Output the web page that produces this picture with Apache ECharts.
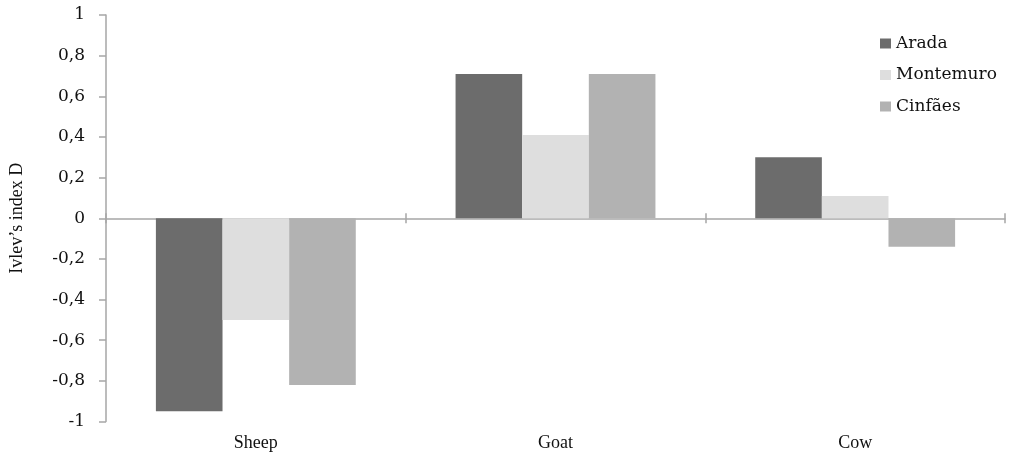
<!DOCTYPE html>
<html>
<head>
<meta charset="utf-8">
<script src="https://cdn.jsdelivr.net/npm/echarts@6/dist/echarts.min.js"></script>
<style>html,body{margin:0;padding:0;background:#fff;}#c{width:1014px;height:455px;}</style>
</head>
<body>
<div id="c"></div>
<script>
const categories = ['Sheep', 'Goat', 'Cow'];
const arada = [-0.95, 0.71, 0.30];
const montemuro = [-0.50, 0.41, 0.11];
const cinfaes = [-0.82, 0.71, -0.14];
const seriesNames = ['Arada', 'Montemuro', 'Cinfães'];
const yTicks = { min: -1, max: 1, interval: 0.2 };

const font = 'Liberation Serif';
const wideFont = 'DejaVu Serif';
const axisGray = '#a6a6a6';
const chart = echarts.init(document.getElementById('c'));
chart.setOption({
  animation: false,
  backgroundColor: '#fff',
  grid: { left: 105, right: 9, top: 15, bottom: 33.5 },
  legend: {
    orient: 'vertical', left: 875, top: 30, icon: 'rect',
    itemWidth: 11, itemHeight: 10, itemGap: 14.5,
    textStyle: { fontFamily: wideFont, fontSize: 17, color: '#111' },
    data: seriesNames
  },
  xAxis: [
    { type: 'category', data: categories, position: 'bottom',
      axisLine: { show: false, onZero: false }, axisTick: { show: false },
      axisLabel: { margin: 13, fontFamily: font, fontSize: 18, color: '#111' } },
    { type: 'category', data: categories, position: 'bottom',
      axisLine: { show: true, onZero: true, onZeroAxisIndex: 0, lineStyle: { color: axisGray, width: 1.5 } },
      axisTick: { show: true, length: 5, lineStyle: { color: axisGray, width: 1.5 } },
      axisLabel: { show: false } },
    { type: 'category', data: categories, position: 'bottom',
      axisLine: { show: false, onZero: true, onZeroAxisIndex: 1 },
      axisTick: { show: true, inside: true, length: 5, lineStyle: { color: axisGray, width: 1.5 } },
      axisLabel: { show: false } }
  ],
  yAxis: [
    { type: 'value', min: yTicks.min, max: yTicks.max, interval: yTicks.interval,
      name: 'Ivlev’s index D', nameLocation: 'middle', nameGap: 80,
      nameTextStyle: { fontFamily: font, fontSize: 18, color: '#111' },
      axisLine: { show: true, lineStyle: { color: axisGray, width: 1.5 } },
      axisTick: { show: true, length: 7, lineStyle: { color: axisGray, width: 1.5 } },
      splitLine: { show: false },
      axisLabel: { margin: 21, fontFamily: wideFont, fontSize: 17, color: '#111',
        formatter: v => String(Math.round(v * 10) / 10).replace('.', ',') } },
    { type: 'value', min: yTicks.min, max: yTicks.max, interval: yTicks.interval, position: 'left',
      axisLine: { show: false }, axisTick: { show: false }, axisLabel: { show: false }, splitLine: { show: false } }
  ],
  series: [
    { name: seriesNames[0], type: 'bar', data: arada, itemStyle: { color: '#6c6c6c' }, barGap: '0%', barCategoryGap: '33.3%' },
    { name: seriesNames[1], type: 'bar', data: montemuro, itemStyle: { color: '#dedede' }, barGap: '0%', barCategoryGap: '33.3%' },
    { name: seriesNames[2], type: 'bar', data: cinfaes, itemStyle: { color: '#b2b2b2' }, barGap: '0%', barCategoryGap: '33.3%' }
  ]
});
</script>
</body>
</html>
